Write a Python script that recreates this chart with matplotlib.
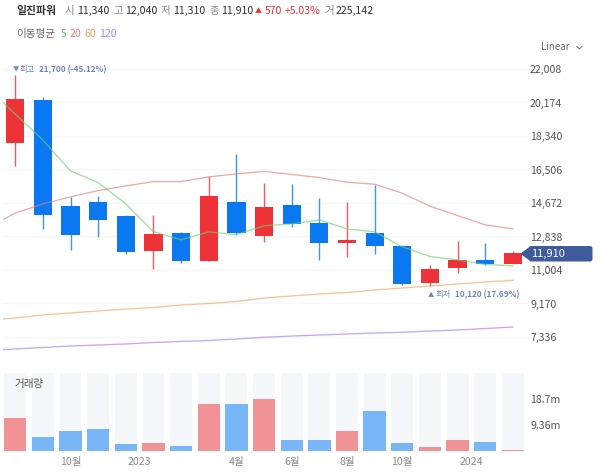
import matplotlib
matplotlib.use("Agg")
import matplotlib.pyplot as plt
from matplotlib.patches import Polygon, FancyBboxPatch
from matplotlib.lines import Line2D

plt.rcParams['font.family'] = ['Noto Sans CJK KR', 'DejaVu Sans']

W, H = 600, 472

opens = [17977, 20312, 14514, 14716, 13951, 12069, 13054, 11506, 14716, 12890, 14569, 13584, 12490, 13020, 12290, 10302, 11122, 11578, 11340]
highs = [21700, 20460, 14990, 15080, 14038, 14005, 13075, 16137, 17342, 15772, 15701, 14935, 14733, 15663, 12364, 11270, 12600, 12507, 12040]
lows = [16702, 13272, 12107, 12835, 11888, 11051, 11413, 11470, 12910, 12545, 13365, 11544, 11724, 11905, 10193, 10120, 10812, 11286, 11310]
closes = [20367, 14022, 12928, 13732, 11980, 12966, 11506, 15061, 13054, 14476, 13529, 12490, 12638, 12310, 10247, 11068, 11578, 11341, 11910]
volumes = [11.94, 4.96, 7.12, 8.09, 2.45, 2.70, 1.87, 16.8, 16.8, 18.8, 3.78, 3.78, 7.37, 14.3, 2.70, 1.26, 4.03, 3.06, 0.29]
is_up = [True, False, False, False, False, True, False, True, False, True, False, False, True, False, False, True, True, False, True]

ma_x = list(range(-1, 19))
ma5 = [20969, 19545, 18120, 16429, 15789, 14623, 13108, 12654, 13092, 12944, 13420, 13530, 13748, 13256, 13092, 12271, 11740, 11560, 11303, 11232]
ma20 = [13311, 14115, 14623, 15006, 15351, 15608, 15843, 15843, 16100, 16264, 16401, 16237, 16062, 15810, 15701, 15208, 14497, 13983, 13474, 13255]
ma60 = [8266, 8376, 8540, 8650, 8759, 8868, 8950, 9087, 9170, 9279, 9470, 9580, 9690, 9771, 9908, 10018, 10127, 10236, 10346, 10439]
ma120 = [6600, 6678, 6760, 6842, 6897, 6952, 7034, 7089, 7143, 7225, 7318, 7389, 7444, 7499, 7554, 7592, 7663, 7718, 7800, 7882]

price_ticks = [22008, 20174, 18340, 16506, 14672, 12838, 11004, 9170, 7336]
volume_ticks = [9.36, 18.7]
volume_tick_labels = ['9.36m', '18.7m']
x_tick_pos = [2, 4.5, 8, 10, 12, 14, 16.5]
x_tick_labels = ['10월', '2023', '4월', '6월', '8월', '10월', '2024']

RED = '#ee3237'
BLUE = '#0a78f0'
VRED = '#f19296'
VBLUE = '#79b6f7'
TXT = '#555555'
ANN = '#7187b8'


def X(px):
    return (px - 15.2) / 27.65


def P(py):
    return 22008 - (py - 69) * 54.75


fig = plt.figure(figsize=(W / 100, H / 100), dpi=100, facecolor='white')
AL, AR = 3, 528
ax = fig.add_axes([AL / W, 1 - 356 / H, (AR - AL) / W, (356 - 60) / H])
ax.set_xlim(X(AL), X(AR))
ax.set_ylim(P(356), P(60))
for s in ax.spines.values():
    s.set_visible(False)
ax.set_xticks([])
ax.yaxis.tick_right()
ax.set_yticks(price_ticks)
ax.set_yticklabels([f'{t:,}' for t in price_ticks], fontsize=7.6, color=TXT)
ax.tick_params(axis='y', length=0, pad=1.5)
ax.grid(axis='y', color='#f6f7f9', lw=0.9)
ax.set_axisbelow(True)

for i in range(len(opens)):
    c = RED if is_up[i] else BLUE
    ax.vlines(i, lows[i], highs[i], color=c, lw=1.0, alpha=0.8, zorder=2.5)
    ax.bar(i, abs(closes[i] - opens[i]), bottom=min(opens[i], closes[i]), width=0.66, color=c, zorder=3)

for vals, c in [(ma120, '#a57ae8'), (ma60, '#f0a560'), (ma20, '#e97b7b'), (ma5, '#6fd06f')]:
    ax.plot(ma_x, vals, color=c, lw=0.95, alpha=0.65, zorder=4, solid_joinstyle='round')

vax = fig.add_axes([AL / W, 1 - 451 / H, (AR - AL) / W, (451 - 373) / H])
vax.set_xlim(X(AL), X(AR))
vtop = (451 - 373) * 0.3596
vax.set_ylim(0, vtop)
for s in vax.spines.values():
    s.set_visible(False)
vax.bar(range(len(volumes)), [vtop] * len(volumes), width=0.79, color='#f6f7fa', zorder=1)
vax.bar(range(len(volumes)), volumes, width=0.81, color=[VRED if u else VBLUE for u in is_up], zorder=2)
vax.yaxis.tick_right()
vax.set_yticks(volume_ticks)
vax.set_yticklabels(volume_tick_labels, fontsize=7.6, color=TXT)
vax.set_xticks(x_tick_pos)
vax.set_xticklabels(x_tick_labels, fontsize=7.6, color='#8a8a8a')
vax.tick_params(axis='both', length=0)
vax.tick_params(axis='x', pad=4)
vax.tick_params(axis='y', pad=1.5)


def T(px, py, s, **kw):
    kw.setdefault('va', 'center')
    kw.setdefault('ha', 'left')
    kw.setdefault('fontsize', 7.6)
    kw.setdefault('color', TXT)
    fig.text(px / W, 1 - py / H, s, **kw)


DK = '#333333'
GR = '#8a8a8a'
T(16, 11, '일진파워', color=DK, fontweight='bold', fontsize=7.8)
for px, s, c, w in [(65, '시', GR, 'normal'), (77, '11,340', DK, 'medium'), (113, '고', GR, 'normal'),
                    (125, '12,040', DK, 'medium'), (161, '저', GR, 'normal'), (173, '11,310', DK, 'medium'),
                    (209, '종', GR, 'normal'), (221, '11,910', DK, 'medium'), (255, '▲', RED, 'normal'),
                    (264.5, '570', RED, 'normal'), (285, '+5.03%', RED, 'normal'), (325, '거', GR, 'normal'),
                    (336, '225,142', DK, 'medium')]:
    T(px, 11, s, color=c, fontweight=w, fontsize=5 if s == '▲' else 7.6)

T(16, 34, '이동평균', fontsize=7.6, color='#666666')
for px, s, c in [(61, '5', '#6cc56c'), (70, '20', '#ee7f7f'), (84, '60', '#eda06a'), (99, '120', '#a98be8')]:
    T(px, 34, s, color=c, fontsize=7.6)

T(541, 47, 'Linear', fontsize=7, color='#666666')
fig.add_artist(Line2D([577 / W, 579.5 / W, 582 / W], [1 - 46.5 / H, 1 - 49 / H, 1 - 46.5 / H], color='#777777', lw=0.8))

T(13, 69.5, '▼', fontsize=4.5, color=ANN)
T(20, 69.5, '최고', fontsize=6.0, color=ANN)
T(39, 69.5, '21,700 (-45.12%)', fontsize=5.9, color=ANN, fontweight='bold')
T(428, 295, '▲', fontsize=4.5, color=ANN)
T(436, 295, '최저', fontsize=6.0, color=ANN)
T(455, 295, '10,120 (17.69%)', fontsize=5.9, color=ANN, fontweight='bold')
T(15, 384, '거래량', fontsize=7.6, color='#555555')

# current price tag
TAG = '#3f5b9b'
fig.add_artist(FancyBboxPatch((529 / W, 1 - 261.5 / H), 63.5 / W, 15.5 / H, boxstyle='round,pad=0,rounding_size=0.004',
                              transform=fig.transFigure, fc=TAG, ec='none', mutation_aspect=W / H))
fig.add_artist(Polygon([[520 / W, 1 - 253.7 / H], [531 / W, 1 - 246 / H], [531 / W, 1 - 261.5 / H]],
                       closed=True, transform=fig.transFigure, fc=TAG, ec='none'))
T(531, 254, '11,910', color='white', fontsize=8)

fig.savefig('out.png', dpi=100)
